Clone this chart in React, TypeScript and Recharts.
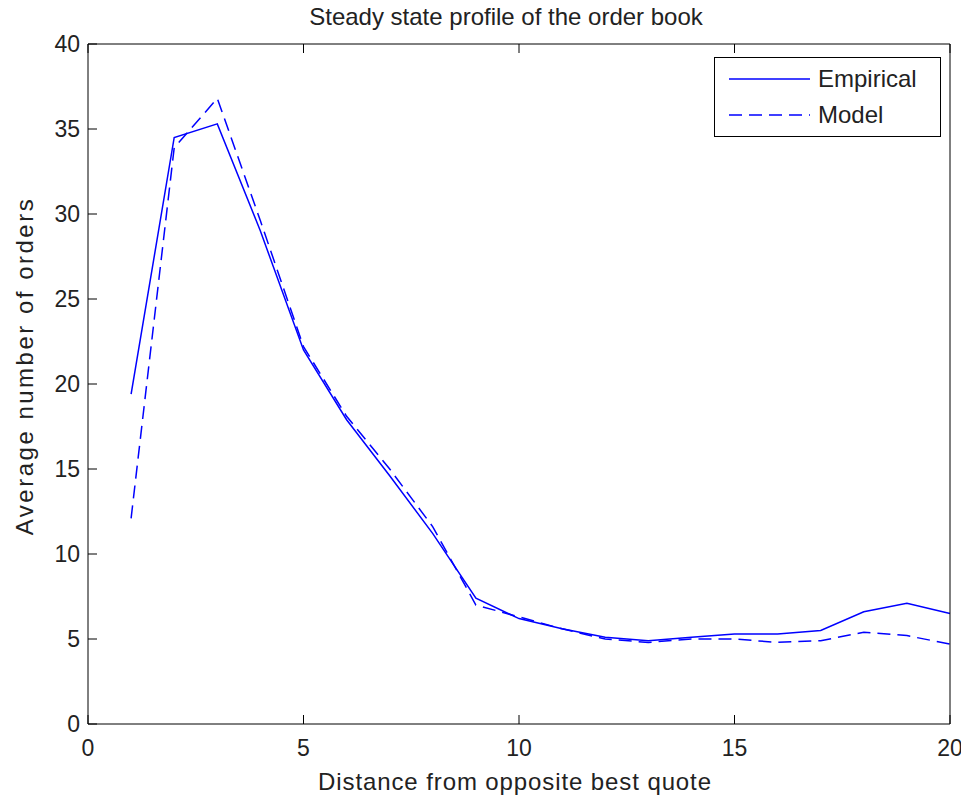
import React from 'react';
import { LineChart, Line, XAxis, YAxis } from 'recharts';

const distance = [1, 2, 3, 4, 5, 6, 7, 8, 9, 10, 11, 12, 13, 14, 15, 16, 17, 18, 19, 20];
const empirical = [19.4, 34.5, 35.3, 29.0, 22.0, 17.9, 14.6, 11.2, 7.4, 6.2, 5.6, 5.1, 4.9, 5.1, 5.3, 5.3, 5.5, 6.6, 7.1, 6.5];
const model = [12.1, 33.9, 36.8, 29.6, 22.2, 18.1, 15.0, 11.6, 7.0, 6.3, 5.6, 5.0, 4.8, 5.0, 5.0, 4.8, 4.9, 5.4, 5.2, 4.7];
const xTicks = [0, 5, 10, 15, 20];
const yTicks = [0, 5, 10, 15, 20, 25, 30, 35, 40];

const data = distance.map((d, i) => ({ d, Empirical: empirical[i], Model: model[i] }));

const FONT = '"Liberation Sans", Arial, sans-serif';
const TXT = '#222';
const TICK = 9;

const BottomTick = (props: any) => {
  const { x, y, payload } = props;
  return (
    <g>
      <line x1={x} y1={y} x2={x} y2={y - TICK} stroke="#000" />
      <text x={x} y={y + 32} textAnchor="middle" fontSize={23} fill={TXT} fontFamily={FONT}>{payload.value}</text>
    </g>
  );
};
const TopTick = (props: any) => {
  const { x, y } = props;
  return <line x1={x} y1={y} x2={x} y2={y + TICK} stroke="#000" />;
};
const LeftTick = (props: any) => {
  const { x, y, payload } = props;
  return (
    <g>
      <line x1={x} y1={y} x2={x + TICK} y2={y} stroke="#000" />
      <text x={x - 8} y={y + 8} textAnchor="end" fontSize={23} fill={TXT} fontFamily={FONT}>{payload.value}</text>
    </g>
  );
};
const RightTick = (props: any) => {
  const { x, y } = props;
  return <line x1={x} y1={y} x2={x - TICK} y2={y} stroke="#000" />;
};

export default function App() {
  return (
    <div style={{ position: 'relative', width: 961, height: 790, fontFamily: FONT, color: TXT }}>
      <style>{'.recharts-surface { overflow: visible; }'}</style>
      <div style={{ position: 'absolute', left: 198, top: -5, width: 600, lineHeight: '28px', textAlign: 'center', fontSize: 24 }}>
        Steady state profile of the order book
      </div>
      <LineChart width={961} height={790} data={data} margin={{ top: 35, right: 18, bottom: 73, left: 79 }}>
        <XAxis dataKey="d" type="number" domain={[0, 20]} ticks={xTicks} height={1} tickSize={0} tickMargin={0}
          tick={<BottomTick />} axisLine={{ stroke: '#000' }} tickLine={false} />
        <XAxis xAxisId="top" orientation="top" dataKey="d" type="number" domain={[0, 20]} ticks={xTicks} height={1}
          tickSize={0} tickMargin={0} tick={<TopTick />} axisLine={{ stroke: '#000' }} tickLine={false} />
        <YAxis type="number" domain={[0, 40]} ticks={yTicks} width={1} tickSize={0} tickMargin={0}
          tick={<LeftTick />} axisLine={{ stroke: '#000' }} tickLine={false} />
        <YAxis yAxisId="right" orientation="right" type="number" domain={[0, 40]} ticks={yTicks} width={1}
          tickSize={0} tickMargin={0} tick={<RightTick />} axisLine={{ stroke: '#000' }} tickLine={false} />
        <Line dataKey="Empirical" type="linear" stroke="#0000ff" strokeWidth={1.5} dot={false} isAnimationActive={false} />
        <Line dataKey="Model" type="linear" stroke="#0000ff" strokeWidth={1.5} strokeDasharray="13 7" dot={false} isAnimationActive={false} />
      </LineChart>
      <div style={{ position: 'absolute', left: 706, top: 49, width: 227, height: 80 }}>
        <svg width={227} height={80} style={{ display: 'block' }}>
          <rect x={0.5} y={0.5} width={226} height={79} fill="#fff" stroke="#000" />
          <line x1={15} y1={22} x2={96} y2={22} stroke="#0000ff" strokeWidth={1.5} />
          <text x={104} y={30} fontSize={24} fill={TXT} fontFamily={FONT}>Empirical</text>
          <line x1={15} y1={58} x2={96} y2={58} stroke="#0000ff" strokeWidth={1.5} strokeDasharray="13 7" />
          <text x={104} y={66} fontSize={24} fill={TXT} fontFamily={FONT}>Model</text>
        </svg>
      </div>
      <div style={{ position: 'absolute', left: 207, top: 760, width: 600, lineHeight: '28px', textAlign: 'center', fontSize: 24, letterSpacing: 0.9 }}>
        Distance from opposite best quote
      </div>
      <div style={{ position: 'absolute', left: -183, top: 344, width: 400, lineHeight: '28px', textAlign: 'center', fontSize: 24, letterSpacing: 2.5, transform: 'rotate(-90deg)' }}>
        Average number of orders
      </div>
    </div>
  );
}
